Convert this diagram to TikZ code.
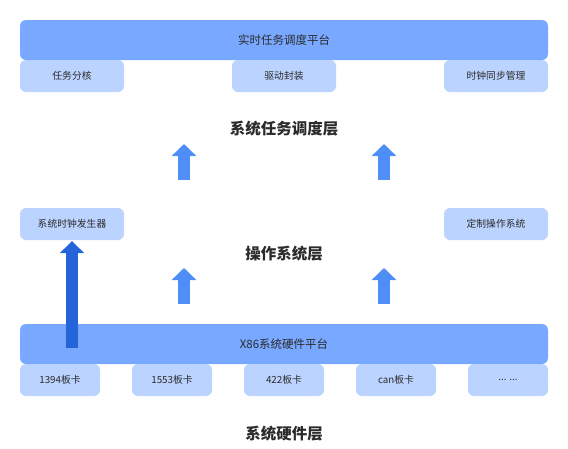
\documentclass[tikz,border=0pt]{standalone}
\usepackage{fontspec}
\setmainfont{Noto Sans CJK SC}
\usetikzlibrary{arrows.meta}
\definecolor{barblue}{HTML}{78A8FF}
\definecolor{subblue}{HTML}{BBD3FF}
\definecolor{arrlight}{HTML}{4F8EF7}
\definecolor{arrdark}{HTML}{2563D8}
\definecolor{txt}{HTML}{2B2B2B}
\begin{document}
\begin{tikzpicture}[x=1pt,y=-1pt,
  bar/.style={rectangle,rounded corners=6pt,fill=barblue,minimum width=528pt,minimum height=40pt,inner sep=0pt,text=txt,font=\fontsize{11.5}{13}\selectfont},
  sub/.style={rectangle,rounded corners=6pt,fill=subblue,minimum height=32pt,inner sep=0pt,text=txt,font=\fontsize{9.8}{11}\selectfont},
  subw/.style={sub,minimum width=104pt},
  subn/.style={sub,minimum width=80pt},
  layer/.style={text=txt,font=\fontsize{15.5}{17}\selectfont\bfseries,inner sep=0pt},
  uparr/.style={line width=12pt,draw=arrlight,-{Triangle[width=24pt,length=12pt]}},
  darkarr/.style={line width=12pt,draw=arrdark,-{Triangle[width=24pt,length=12pt]}}
]
\useasboundingbox (0,0) rectangle (568,448);
% top layer
\node[bar] (rt) at (284,40) {实时任务调度平台};
\node[subw] (s1) at (72,76) {任务分核};
\node[subw] (s2) at (284,76) {驱动封装};
\node[subw] (s3) at (496,76) {时钟同步管理};
\node[layer] (l1) at (284,129) {系统任务调度层};
% arrows between layer 2 and 1
\coordinate (a1s) at (184,180); \coordinate (a1e) at (184,144);
\coordinate (a2s) at (384,180); \coordinate (a2e) at (384,144);
\draw[uparr] (a1s) -- (a1e);
\draw[uparr] (a2s) -- (a2e);
% middle layer
\node[subw] (clk) at (72,224) {系统时钟发生器};
\node[subw] (os) at (496,224) {定制操作系统};
\node[layer] (l2) at (284,254) {操作系统层};
\coordinate (b1s) at (184,304); \coordinate (b1e) at (184,268);
\coordinate (b2s) at (384,304); \coordinate (b2e) at (384,268);
\draw[uparr] (b1s) -- (b1e);
\draw[uparr] (b2s) -- (b2e);
% bottom layer
\node[bar] (hw) at (284,344) {X86系统硬件平台};
\node[subn] (c1) at (60,380) {1394板卡};
\node[subn] (c2) at (172,380) {1553板卡};
\node[subn] (c3) at (284,380) {422板卡};
\node[subn] (c4) at (396,380) {can板卡};
\node[subn] (c5) at (508,380) {... ...};
\node[layer] (l3) at (284,434) {系统硬件层};
% dark arrow
\coordinate (ds) at (72,348);
\draw[darkarr] (ds) -- ([yshift=-1pt]clk.south);
\end{tikzpicture}
\end{document}
